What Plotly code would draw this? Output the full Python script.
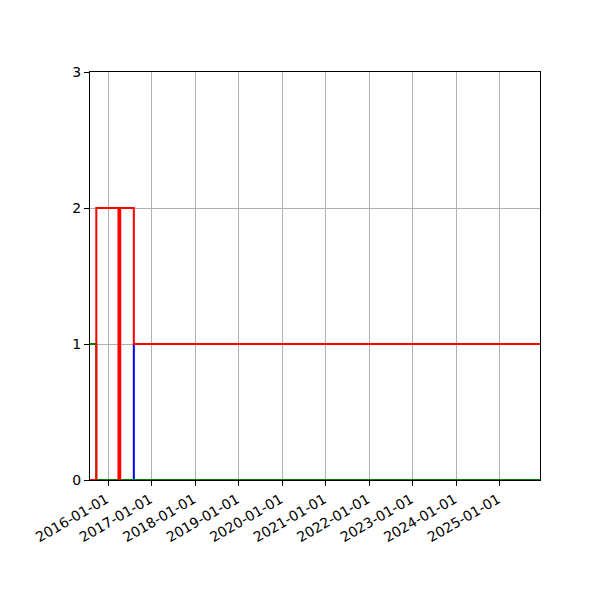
import plotly.graph_objects as go

# step series
red_dates = ["2015-07-31", "2015-09-22", "2016-03-26", "2016-04-10", "2016-08-02", "2025-12-03"]
red_vals = [0, 2, 0, 2, 1, 1]

blue_dates = ["2015-07-31", "2016-08-02", "2025-12-03"]
blue_vals = [0, 1, 1]

green_dates = ["2015-07-31", "2015-09-22", "2025-12-03"]
green_vals = [1, 0, 0]

year_ticks = ["2016-01-01", "2017-01-01", "2018-01-01", "2019-01-01", "2020-01-01",
              "2021-01-01", "2022-01-01", "2023-01-01", "2024-01-01", "2025-01-01"]
y_ticks = [0, 1, 2, 3]

fig = go.Figure()
fig.add_trace(go.Scatter(x=blue_dates, y=blue_vals, mode="lines", line_shape="hv",
                         line=dict(color="#0000ff", width=2)))
fig.add_trace(go.Scatter(x=green_dates, y=green_vals, mode="lines", line_shape="hv",
                         line=dict(color="#008000", width=2)))
fig.add_trace(go.Scatter(x=red_dates, y=red_vals, mode="lines", line_shape="hv",
                         line=dict(color="#ff0000", width=2)))

axis_style = dict(showline=True, mirror=True, linecolor="black", linewidth=1.1,
                  ticks="outside", ticklen=5, tickcolor="black", tickwidth=1.1,
                  showgrid=True, gridcolor="#b0b0b0", gridwidth=1.1, zeroline=False,
                  layer="below traces",
                  tickfont=dict(family="DejaVu Sans", size=14, color="black"))

# page body has an 8px margin, so shift margins to land the plot box at 90..540 / 72..480
fig.update_layout(
    width=600, height=600,
    showlegend=False,
    plot_bgcolor="white", paper_bgcolor="white",
    margin=dict(l=82, r=68, t=64, b=128),
    xaxis=dict(type="date", range=["2015-07-31", "2025-12-03"],
               tickvals=year_ticks, ticktext=year_ticks, tickangle=-30,
               ticklabelshift=-2, **axis_style),
    yaxis=dict(range=[0, 3], tickvals=y_ticks, **axis_style),
)

fig.write_html("out.html")
